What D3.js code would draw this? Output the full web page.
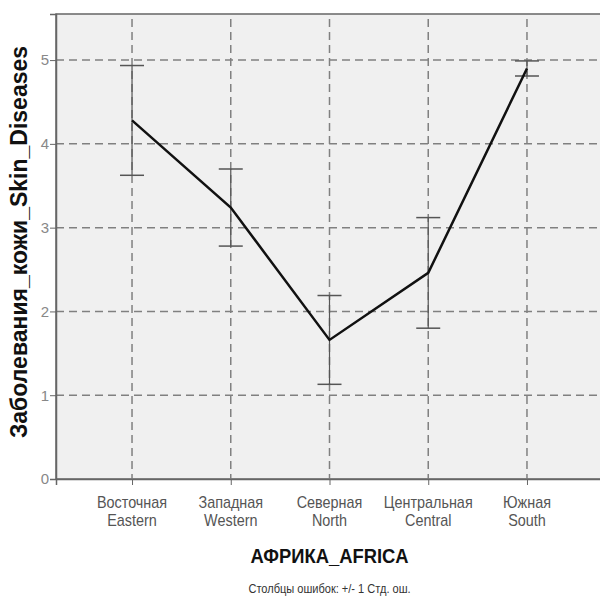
<!DOCTYPE html>
<html>
<head>
<meta charset="utf-8">
<script src="https://cdn.jsdelivr.net/npm/d3@7"></script>
<style>
  body { margin: 0; background: #fff; }
  text { font-family: "Liberation Sans", Arial, sans-serif; }
</style>
</head>
<body>
<div id="chart"></div>
<script>
const regionsRu = ["Восточная", "Западная", "Северная", "Центральная", "Южная"];
const regionsEn = ["Eastern", "Western", "North", "Central", "South"];
const means = [4.28, 3.24, 1.66, 2.46, 4.90];
const stdErr = [0.655, 0.46, 0.53, 0.66, 0.09];
const yTicks = [0, 1, 2, 3, 4, 5];

const margin = { top: 14, right: -3, bottom: 125, left: 56 };
const W = 600, H = 604;
const width = W - margin.left - margin.right;
const height = H - margin.top - margin.bottom;

const svg = d3.select("#chart")
  .append("svg")
    .attr("width", W)
    .attr("height", H)
  .append("g")
    .attr("transform", `translate(${margin.left}, ${margin.top})`);

const xScale = d3.scalePoint()
  .domain(regionsEn)
  .range([0, width])
  .padding(0.77);

const yScale = d3.scaleLinear()
  .domain([0, 5.55])
  .range([height, 0]);

// plot background
svg.append("rect")
  .attr("width", width)
  .attr("height", height)
  .style("fill", "#f0f0f0")
  .style("stroke", "#666")
  .style("stroke-width", 1.5);

// dashed grid
svg.append("g")
  .selectAll("line")
  .data(yTicks.filter(d => d > 0))
  .enter().append("line")
    .attr("x1", 0)
    .attr("x2", width)
    .attr("y1", d => yScale(d))
    .attr("y2", d => yScale(d))
    .style("stroke", "#808080")
    .style("stroke-width", 1.5)
    .style("stroke-dasharray", "8,5");

svg.append("g")
  .selectAll("line")
  .data(regionsEn)
  .enter().append("line")
    .attr("x1", d => xScale(d))
    .attr("x2", d => xScale(d))
    .attr("y1", 5)
    .attr("y2", height)
    .style("stroke", "#808080")
    .style("stroke-width", 1.5)
    .style("stroke-dasharray", "8,5");

// axes
const yAxis = svg.append("g")
  .call(d3.axisLeft(yScale).tickValues(yTicks).tickSize(6).tickFormat(d3.format("d")));
yAxis.select(".domain").style("stroke", "#666").style("stroke-width", 1.5);
yAxis.selectAll("line").style("stroke", "#666");
yAxis.selectAll("text")
  .attr("x", -7)
  .style("font-size", "15px")
  .style("fill", "#888");

const xAxis = svg.append("g")
  .attr("transform", `translate(0, ${height})`)
  .call(d3.axisBottom(xScale).tickSize(6).tickFormat(""));
xAxis.select(".domain").style("stroke", "#666").style("stroke-width", 1.5);
xAxis.selectAll("line").style("stroke", "#666");

// category labels, squeezed horizontally like the narrow original font
const catLabels = svg.append("g")
  .selectAll("text")
  .data(regionsEn)
  .enter().append("text")
    .attr("transform", d => `translate(${xScale(d)}, ${height + 29}) scale(0.9, 1)`)
    .attr("text-anchor", "middle")
    .style("font-size", "16px")
    .style("fill", "#555");
catLabels.append("tspan")
  .attr("x", 0)
  .text((d, i) => regionsRu[i]);
catLabels.append("tspan")
  .attr("x", 0)
  .attr("dy", 18)
  .text(d => d);

// error bars
const bars = svg.append("g")
  .selectAll("g")
  .data(regionsEn)
  .enter().append("g");

bars.append("line")
  .attr("x1", d => xScale(d))
  .attr("x2", d => xScale(d))
  .attr("y1", (d, i) => yScale(means[i] + stdErr[i]))
  .attr("y2", (d, i) => yScale(means[i] - stdErr[i]))
  .style("stroke", "#555")
  .style("stroke-width", 1.2);

[1, -1].forEach(s => {
  bars.append("line")
    .attr("x1", d => xScale(d) - 12)
    .attr("x2", d => xScale(d) + 12)
    .attr("y1", (d, i) => yScale(means[i] + s * stdErr[i]))
    .attr("y2", (d, i) => yScale(means[i] + s * stdErr[i]))
    .style("stroke", "#555")
    .style("stroke-width", 1.5);
});

// mean line
const line = d3.line()
  .x(d => xScale(d[0]))
  .y(d => yScale(d[1]));

svg.append("path")
  .datum(regionsEn.map((d, i) => [d, means[i]]))
  .attr("d", line)
  .style("fill", "none")
  .style("stroke", "#111")
  .style("stroke-width", 2.5);

// titles
svg.append("text")
  .attr("transform", `translate(${xScale("North")}, ${height + 84}) scale(0.92, 1)`)
  .attr("text-anchor", "middle")
  .style("font-weight", "bold")
  .style("font-size", "20px")
  .style("fill", "#111")
  .text("АФРИКА_AFRICA");

svg.append("text")
  .attr("transform", `translate(${-29}, ${228}) rotate(-90)`)
  .attr("text-anchor", "middle")
  .style("font-weight", "bold")
  .style("font-size", "23px")
  .style("fill", "#111")
  .text("Заболевания_кожи_Skin_Diseases");

svg.append("text")
  .attr("transform", `translate(${xScale("North")}, ${height + 114}) scale(0.85, 1)`)
  .attr("text-anchor", "middle")
  .style("font-size", "13px")
  .style("fill", "#333")
  .text("Столбцы ошибок: +/- 1 Стд. ош.");
</script>
</body>
</html>
